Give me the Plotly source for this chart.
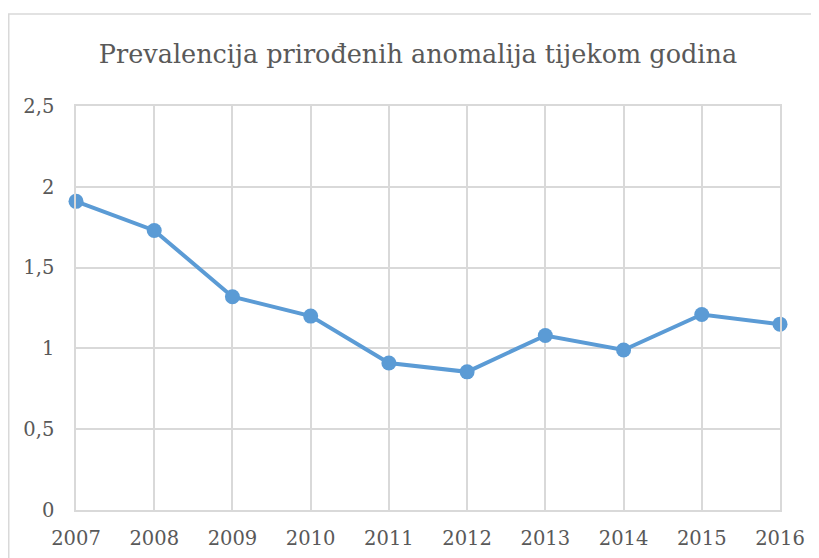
import plotly.graph_objects as go

years = [2007, 2008, 2009, 2010, 2011, 2012, 2013, 2014, 2015, 2016]
prevalence = [1.91, 1.73, 1.32, 1.20, 0.91, 0.855, 1.08, 0.99, 1.21, 1.15]
y_ticks = [0, 0.5, 1, 1.5, 2, 2.5]
y_tick_labels = ["0", "0,5", "1", "1,5", "2", "2,5"]
title_text = "Prevalencija prirođenih anomalija tijekom godina"

grid = "#D9D9D9"
txt = "#595959"
family = '"DejaVu Serif", "Liberation Serif", serif'

FW, FH = 819, 558
L, T, W, H = 68, 98, 704, 404

fig = go.Figure()
fig.add_trace(go.Scatter(
    x=years, y=prevalence, mode="lines+markers",
    line=dict(color="#5B9BD5", width=4),
    marker=dict(color="#5B9BD5", size=15),
    cliponaxis=False, showlegend=False,
))

fig.update_layout(
    width=FW, height=FH,
    margin=dict(l=L, r=FW - L - W, t=T, b=FH - T - H),
    paper_bgcolor="white", plot_bgcolor="white",
    font=dict(family=family, color=txt, size=19.5),
    title=dict(text=title_text, x=(418 - 8) / FW, xanchor="center",
               y=1 - 46 / FH, yanchor="middle",
               font=dict(family=family, size=25.5, color=txt)),
    xaxis=dict(range=[2007, 2016], tickvals=years, ticktext=[str(y) for y in years],
               showgrid=True, gridcolor=grid, gridwidth=1.5,
               showline=True, linecolor=grid, linewidth=1.5, mirror=True,
               ticks="outside", ticklen=10, tickcolor="rgba(0,0,0,0)",
               zeroline=False, tickfont=dict(family=family, size=19.5, color=txt)),
    yaxis=dict(range=[0, 2.5], tickvals=y_ticks, ticktext=y_tick_labels,
               showgrid=True, gridcolor=grid, gridwidth=1.5,
               showline=True, linecolor=grid, linewidth=1.5, mirror=True,
               ticks="outside", ticklen=16, tickcolor="rgba(0,0,0,0)",
               zeroline=False, tickfont=dict(family=family, size=19.5, color=txt)),
    shapes=[dict(type="rect", xref="paper", yref="paper",
                 x0=(0.75 - L) / W, x1=(900 - L) / W,
                 y0=-200 / H, y1=1 + (T - 6) / H,
                 line=dict(color="#D9D9D9", width=1.5), layer="below")],
)

fig.write_html("out.html",
               post_script="document.documentElement.style.overflow='hidden';document.body.style.overflow='hidden';")
